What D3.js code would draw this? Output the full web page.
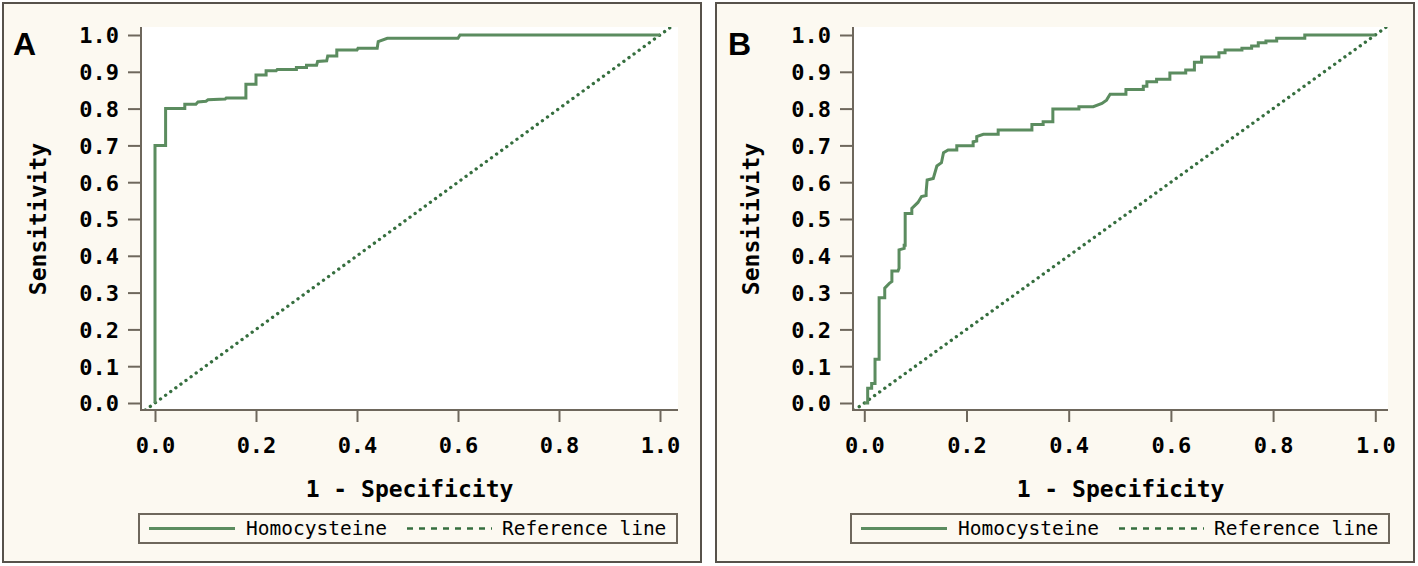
<!DOCTYPE html>
<html>
<head>
<meta charset="utf-8">
<script src="https://cdn.jsdelivr.net/npm/d3@7"></script>
<style>
  body { margin: 0; background: #ffffff; }
  svg { display: block; }
</style>
</head>
<body>
<svg id="chart" width="1418" height="566"></svg>
<script>
// ---------- data ----------
const panelLabels = ["A", "B"];
const xTickValues = [0, 0.2, 0.4, 0.6, 0.8, 1.0];
const yTickValues = [0, 0.1, 0.2, 0.3, 0.4, 0.5, 0.6, 0.7, 0.8, 0.9, 1.0];
const xAxisTitle = "1 - Specificity";
const yAxisTitle = "Sensitivity";
const seriesNames = ["Homocysteine", "Reference line"];

// Panel A ROC curve (1 - specificity, sensitivity)
const fprA = [0, 0, 0.021, 0.021, 0.059, 0.059, 0.081, 0.085, 0.101, 0.105, 0.139, 0.141, 0.180, 0.180,
  0.200, 0.200, 0.220, 0.220, 0.240, 0.242, 0.280, 0.280, 0.300, 0.300, 0.320, 0.322, 0.340, 0.342,
  0.360, 0.360, 0.400, 0.402, 0.440, 0.442, 0.460, 0.600, 0.604, 1.0];
const tprA = [0, 0.700, 0.700, 0.800, 0.800, 0.812, 0.812, 0.818, 0.820, 0.824, 0.826, 0.829, 0.829, 0.866,
  0.866, 0.891, 0.891, 0.903, 0.903, 0.906, 0.906, 0.912, 0.912, 0.918, 0.918, 0.928, 0.930, 0.943,
  0.943, 0.959, 0.959, 0.964, 0.964, 0.982, 0.991, 0.991, 1.0, 1.0];

// Panel B ROC curve
const fprB = [0, 0.0066, 0.0066, 0.0144, 0.0144, 0.021, 0.021, 0.029, 0.029, 0.040, 0.040, 0.049, 0.054,
  0.054, 0.066, 0.068, 0.068, 0.078, 0.078, 0.080, 0.080, 0.093, 0.093, 0.105, 0.112, 0.121, 0.121,
  0.123, 0.135, 0.142, 0.151, 0.155, 0.164, 0.181, 0.181, 0.213, 0.213, 0.220, 0.220, 0.233, 0.262,
  0.262, 0.328, 0.328, 0.350, 0.350, 0.369, 0.369, 0.420, 0.420, 0.448, 0.465, 0.474, 0.481, 0.512,
  0.512, 0.546, 0.546, 0.553, 0.553, 0.572, 0.572, 0.598, 0.598, 0.629, 0.629, 0.646, 0.646, 0.660,
  0.660, 0.694, 0.694, 0.706, 0.706, 0.739, 0.739, 0.758, 0.758, 0.771, 0.771, 0.786, 0.786, 0.807,
  0.807, 0.862, 0.862, 1.0];
const tprB = [0, 0.0, 0.040, 0.040, 0.053, 0.053, 0.119, 0.119, 0.286, 0.286, 0.312, 0.325, 0.330,
  0.359, 0.359, 0.366, 0.416, 0.420, 0.429, 0.429, 0.515, 0.515, 0.529, 0.545, 0.561, 0.564, 0.574,
  0.606, 0.610, 0.644, 0.653, 0.680, 0.6875, 0.6875, 0.699, 0.699, 0.710, 0.712, 0.724, 0.730, 0.730,
  0.742, 0.742, 0.757, 0.757, 0.764, 0.764, 0.799, 0.799, 0.805, 0.805, 0.814, 0.823, 0.839, 0.839,
  0.852, 0.852, 0.861, 0.861, 0.873, 0.873, 0.880, 0.880, 0.897, 0.897, 0.905, 0.905, 0.926, 0.926,
  0.940, 0.940, 0.952, 0.952, 0.959, 0.959, 0.964, 0.964, 0.970, 0.970, 0.979, 0.979, 0.984, 0.984,
  0.991, 0.991, 1.0, 1.0];

// Reference (chance) line
const refX = [-0.1, 1.1];
const refY = [-0.1, 1.1];

// ---------- layout / style ----------
const panels = [
  { label: panelLabels[0], fpr: fprA, tpr: tprA,
    frame: { x: 3, y: 3, w: 698, h: 559 },
    plot: { l: 141, r: 678, t: 27, b: 410 },
    xr: [155, 660], yr: [403, 35],
    legend: { x: 139, y: 514, w: 538, h: 29 },
    letter: { x: 13, y: 55 } },
  { label: panelLabels[1], fpr: fprB, tpr: tprB,
    frame: { x: 716, y: 3, w: 698, h: 559 },
    plot: { l: 853, r: 1388, t: 27, b: 410 },
    xr: [864.3, 1375.3], yr: [403, 35],
    legend: { x: 851, y: 514, w: 538, h: 29 },
    letter: { x: 728, y: 55 } }
];

const C = {
  bg: "#fcf9f1",
  frame: "#57524b",
  axis: "#6e675c",
  curve: "#5b8c5f",
  ref: "#356e3e",
  text: "#000000"
};
const monoFont = "'DejaVu Sans Mono', 'Liberation Mono', monospace";

const svg = d3.select("#chart");
const fmt = d3.format(".1f");

panels.forEach((p, i) => {
  const g = svg.append("g");
  const x = d3.scaleLinear().domain([0, 1]).range(p.xr);
  const y = d3.scaleLinear().domain([0, 1]).range(p.yr);

  // frame
  g.append("rect")
    .attr("x", p.frame.x).attr("y", p.frame.y)
    .attr("width", p.frame.w).attr("height", p.frame.h)
    .attr("fill", C.bg).attr("stroke", C.frame).attr("stroke-width", 2);

  // plot area
  g.append("rect")
    .attr("x", p.plot.l).attr("y", p.plot.t)
    .attr("width", p.plot.r - p.plot.l).attr("height", p.plot.b - p.plot.t)
    .attr("fill", "#ffffff");

  const clipId = "clip" + i;
  g.append("clipPath").attr("id", clipId)
    .append("rect")
    .attr("x", p.plot.l).attr("y", p.plot.t)
    .attr("width", p.plot.r - p.plot.l).attr("height", p.plot.b - p.plot.t);

  // reference line
  const refData = refX.map((v, k) => [v, refY[k]]);
  g.append("path")
    .datum(refData)
    .attr("clip-path", `url(#${clipId})`)
    .attr("d", d3.line().x(d => x(d[0])).y(d => y(d[1])))
    .attr("fill", "none")
    .attr("stroke", C.ref)
    .attr("stroke-width", 3.3)
    .attr("stroke-linecap", "round")
    .attr("stroke-dasharray", "0.1,6.2");

  // ROC curve
  const rocData = p.fpr.map((v, k) => [v, p.tpr[k]]);
  g.append("path")
    .datum(rocData)
    .attr("d", d3.line().x(d => x(d[0])).y(d => y(d[1])))
    .attr("fill", "none")
    .attr("stroke", C.curve)
    .attr("stroke-width", 3)
    .attr("stroke-linejoin", "miter");

  // Y axis
  const yAxis = d3.axisLeft(y).tickValues(yTickValues).tickFormat(fmt)
    .tickSize(13).tickPadding(9);
  const yg = g.append("g").attr("transform", `translate(${p.plot.l},0)`).call(yAxis);
  yg.select(".domain").remove();
  yg.selectAll(".tick line").attr("stroke", C.axis).attr("stroke-width", 2);
  yg.selectAll(".tick text")
    .attr("font-family", monoFont).attr("font-weight", "bold")
    .attr("font-size", 22).attr("fill", C.text)
    .attr("dy", "0.36em");
  g.append("line")
    .attr("x1", p.plot.l).attr("x2", p.plot.l)
    .attr("y1", p.plot.t).attr("y2", p.plot.b + 1)
    .attr("stroke", C.axis).attr("stroke-width", 2);

  // X axis
  const xAxis = d3.axisBottom(x).tickValues(xTickValues).tickFormat(fmt)
    .tickSize(12).tickPadding(10);
  const xg = g.append("g").attr("transform", `translate(0,${p.plot.b})`).call(xAxis);
  xg.select(".domain").remove();
  xg.selectAll(".tick line").attr("stroke", C.axis).attr("stroke-width", 2);
  xg.selectAll(".tick text")
    .attr("font-family", monoFont).attr("font-weight", "bold")
    .attr("font-size", 22).attr("fill", C.text)
    .attr("dy", "0.95em");
  g.append("line")
    .attr("x1", p.plot.l - 1).attr("x2", p.plot.r)
    .attr("y1", p.plot.b).attr("y2", p.plot.b)
    .attr("stroke", C.axis).attr("stroke-width", 2);

  // axis titles
  g.append("text")
    .attr("x", (p.plot.l + p.plot.r) / 2)
    .attr("y", 497)
    .attr("text-anchor", "middle")
    .attr("font-family", monoFont).attr("font-weight", "bold")
    .attr("font-size", 23).attr("fill", C.text)
    .text(xAxisTitle);
  const yt = p.frame.x + 35;
  const ym = (y(0) + y(1)) / 2;
  g.append("text")
    .attr("transform", `translate(${yt},${ym}) rotate(-90)`)
    .attr("text-anchor", "middle")
    .attr("dominant-baseline", "central")
    .attr("font-family", monoFont).attr("font-weight", "bold")
    .attr("font-size", 23).attr("fill", C.text)
    .text(yAxisTitle);

  // panel letter
  g.append("text")
    .attr("x", p.letter.x).attr("y", p.letter.y)
    .attr("font-family", "'Liberation Sans', Arial, sans-serif")
    .attr("font-weight", "bold").attr("font-size", 32)
    .attr("fill", C.text)
    .text(p.label);

  // legend
  const L = p.legend;
  const lg = g.append("g").attr("transform", `translate(${L.x},${L.y})`);
  lg.append("rect").attr("width", L.w).attr("height", L.h)
    .attr("fill", C.bg).attr("stroke", C.axis).attr("stroke-width", 2);
  const my = L.h / 2;
  lg.append("line").attr("x1", 10).attr("x2", 96).attr("y1", my).attr("y2", my)
    .attr("stroke", C.curve).attr("stroke-width", 3);
  lg.append("text").attr("x", 107).attr("y", my)
    .attr("dominant-baseline", "central")
    .attr("font-family", monoFont).attr("font-size", 19.5).attr("fill", C.text)
    .text(seriesNames[0]);
  lg.append("line").attr("x1", 268).attr("x2", 353).attr("y1", my).attr("y2", my)
    .attr("stroke", C.ref).attr("stroke-width", 2.5)
    .attr("stroke-dasharray", "6,6");
  lg.append("text").attr("x", 363).attr("y", my)
    .attr("dominant-baseline", "central")
    .attr("font-family", monoFont).attr("font-size", 19.5).attr("fill", C.text)
    .text(seriesNames[1]);
});
</script>
</body>
</html>
